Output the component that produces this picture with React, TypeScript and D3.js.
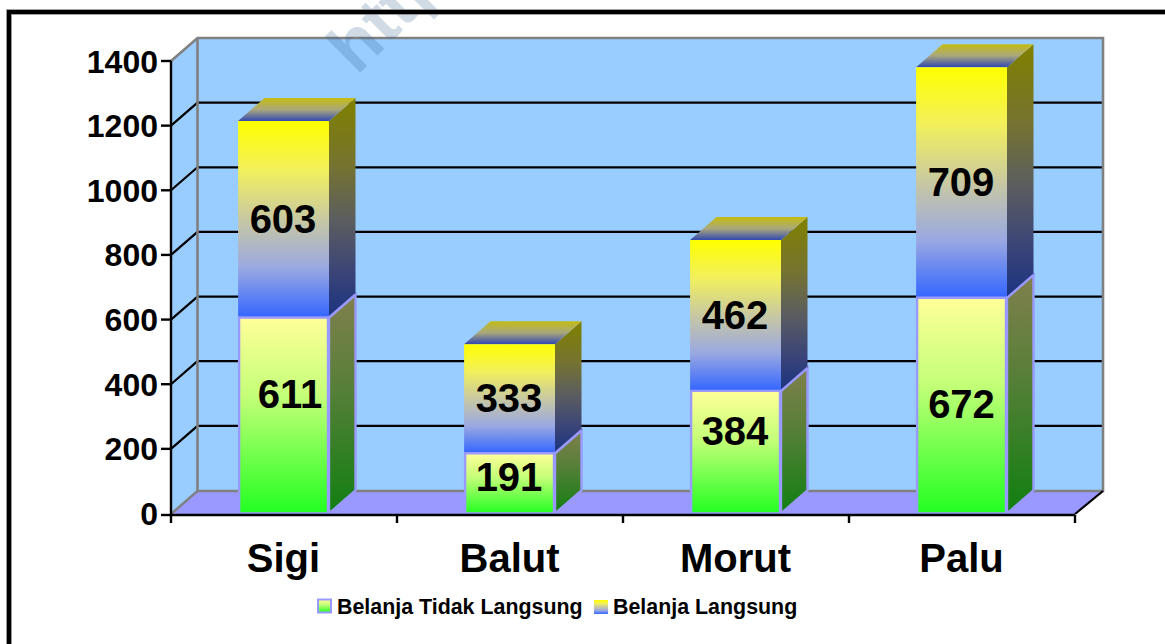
import React from "react";
import * as d3 from "d3";

const categories = ["Sigi", "Balut", "Morut", "Palu"];
const tidakLangsung = [611, 191, 384, 672];
const langsung = [603, 333, 462, 709];
const yTicks = [0, 200, 400, 600, 800, 1000, 1200, 1400];
const legendLabels = ["Belanja Tidak Langsung", "Belanja Langsung"];

// hand-placed label nudges of the original chart
const lowerLabelDx = [7, 0, 0, 0.5];
const lowerLabelDy = [-21, -6, -20, -1];

const FONT = "'Liberation Sans', Arial, sans-serif";
const W = 1165, H = 644;
const DX = 26.5, DY = -23;
const x = d3.scaleBand<string>().domain(categories).range([171, 1075]).paddingInner(0.6).paddingOuter(0.3);
const xOuter = d3.scaleBand<string>().domain(categories).range([171, 1075]);
const y = d3.scaleLinear().domain([0, 1400]).range([513.5, 61]);
const poly = d3.line<[number, number]>().curve(d3.curveLinearClosed);

function Grad({ id, stops }: { id: string; stops: [number, string][] }) {
  return (
    <linearGradient id={id} x1="0" y1="0" x2="0" y2="1">
      {stops.map(([o, c]) => <stop key={o} offset={o} stopColor={c} />)}
    </linearGradient>
  );
}

export default function App() {
  const bw = x.bandwidth();
  return (
    <svg width={W} height={H} style={{ position: "fixed", left: 0, top: 0, background: "#fff" }}>
      <defs>
        <Grad id="upF" stops={[[0, "#ffff00"], [0.25, "#f2f05c"], [0.5, "#c8c8a2"], [0.75, "#9aa8e2"], [1, "#3366ff"]]} />
        <Grad id="upS" stops={[[0, "#808000"], [0.3, "#76742e"], [0.55, "#5c5e5e"], [0.8, "#3a4478"], [1, "#1a3380"]]} />
        <Grad id="upT" stops={[[0, "#c4bc10"], [0.5, "#aaa87c"], [1, "#3348b0"]]} />
        <Grad id="loF" stops={[[0, "#ffff99"], [0.4, "#c4ff78"], [1, "#22ff22"]]} />
        <Grad id="loS" stops={[[0, "#80804d"], [0.4, "#5a7f3a"], [1, "#117f11"]]} />
      </defs>

      {/* walls */}
      <path d={poly([[197.5, 38], [1103, 38], [1103, 491], [197.5, 491]])!} fill="#99ccff" />
      <path d={poly([[171, 61], [197.5, 38], [197.5, 491], [171, 514]])!} fill="#99ccff" />
      <path d={poly([[171, 514], [197.5, 491], [1103, 491], [1075, 514]])!} fill="#9999ff" />

      {/* gridlines */}
      {yTicks.filter(t => t > 0 && t < 1400).map(t => (
        <path key={t} d={`M171 ${y(t)} L197.5 ${y(t) + DY} H1102`} fill="none" stroke="#000" strokeWidth={2.2} />
      ))}

      {/* wall edges */}
      <path d="M171 61 L197.5 38 H1103 V491 H197.5 V38" fill="none" stroke="#808080" strokeWidth={2.6} />
      <path d="M171 514 L197.5 491" stroke="#808080" strokeWidth={2.4} />
      <path d="M1075 514 L1103 491" stroke="#000" strokeWidth={2.2} />

      {/* watermark */}
      <text x={357} y={76} transform="rotate(-45 357 76)" fontFamily={FONT} fontWeight="bold" fontSize={70}
        fill="#2a5a8c" fillOpacity={0.22} stroke="#2a5a8c" strokeOpacity={0.22} strokeWidth={0.01}>http</text>

      {/* frame */}
      <path d={`M${W} 12 H9 V${H}`} fill="none" stroke="#808080" strokeWidth={5.6} />
      <path d={`M${W} 12 H9 V${H}`} fill="none" stroke="#000" strokeWidth={4} />

      {/* bars */}
      {categories.map((c, i) => {
        const x0 = x(c)! - 0.7, x1 = x(c)! + bw - 0.2;
        const yBase = y(0), yMid = y(tidakLangsung[i]) + 1.5, yTop = y(tidakLangsung[i] + langsung[i]);
        const lower: [number, number][] = [[x0 + 1, yBase], [x0 + 1, yMid], [x1 - 1, yMid], [x1 - 1, yBase]];
        const lowerSide: [number, number][] = [[x1, yBase], [x1, yMid], [x1 + DX, yMid + DY], [x1 + DX, yBase + DY]];
        const upper: [number, number][] = [[x0, yMid], [x0, yTop], [x1, yTop], [x1, yMid]];
        const upperSide: [number, number][] = [[x1, yMid], [x1, yTop], [x1 + DX, yTop + DY], [x1 + DX, yMid + DY]];
        const top: [number, number][] = [[x0, yTop], [x0 + DX, yTop + DY], [x1 + DX, yTop + DY], [x1, yTop]];
        return (
          <g key={c}>
            <path d={poly(lowerSide)!} fill="url(#loS)" stroke="#9999ff" strokeWidth={2.4} />
            <path d={poly(upperSide)!} fill="url(#upS)" />
            <path d={poly(top)!} fill="url(#upT)" />
            <path d={poly(upper)!} fill="url(#upF)" />
            <path d={poly(lower)!} fill="url(#loF)" stroke="#9999ff" strokeWidth={2.4} />
            <path d={`M${x1} ${yMid} L${x1 + DX} ${yMid + DY}`} stroke="#9999ff" strokeWidth={2.4} />
          </g>
        );
      })}

      {/* axes */}
      <path d={`M171 61 V515 H1075`} fill="none" stroke="#000" strokeWidth={2.4} />
      {yTicks.map(t => (
        <g key={t}>
          <path d={`M161 ${t === 0 ? 515 : y(t)} H171`} stroke="#000" strokeWidth={2.4} />
          <text x={158} y={y(t) + 11.5} textAnchor="end" fontFamily={FONT} fontWeight="bold" fontSize={32} fill="#000">{t}</text>
        </g>
      ))}
      {[...categories.map(c => xOuter(c)!), 1075].map(px => (
        <path key={px} d={`M${px} 515 V523`} stroke="#000" strokeWidth={2.4} />
      ))}
      {categories.map((c, i) => (
        <text key={c} x={xOuter(c)! + xOuter.bandwidth() / 2 - 0.5} y={572} textAnchor="middle" fontFamily={FONT}
          fontWeight="bold" fontSize={40} fill="#000">{c}</text>
      ))}

      {/* data labels */}
      {categories.map((c, i) => {
        const cx = x(c)! + bw / 2 - 1;
        const yLo = (y(0) + y(tidakLangsung[i])) / 2;
        const yUp = (y(tidakLangsung[i]) + y(tidakLangsung[i] + langsung[i])) / 2;
        return (
          <g key={c} fontFamily={FONT} fontWeight="bold" fontSize={40} textAnchor="middle" fill="#000">
            <text x={cx + lowerLabelDx[i]} y={yLo + 14 + lowerLabelDy[i]}>{tidakLangsung[i]}</text>
            <text x={cx} y={yUp + 14}>{langsung[i]}</text>
          </g>
        );
      })}

      {/* legend */}
      <rect x={318} y={599.5} width={13} height={13} fill="url(#loF)" stroke="#9999ff" strokeWidth={2} />
      <text x={337} y={614} fontFamily={FONT} fontWeight="bold" fontSize={21.4} fill="#000">{legendLabels[0]}</text>
      <rect x={594} y={600} width={14} height={14} fill="url(#upF)" />
      <text x={613} y={614} fontFamily={FONT} fontWeight="bold" fontSize={21.4} fill="#000">{legendLabels[1]}</text>
    </svg>
  );
}
